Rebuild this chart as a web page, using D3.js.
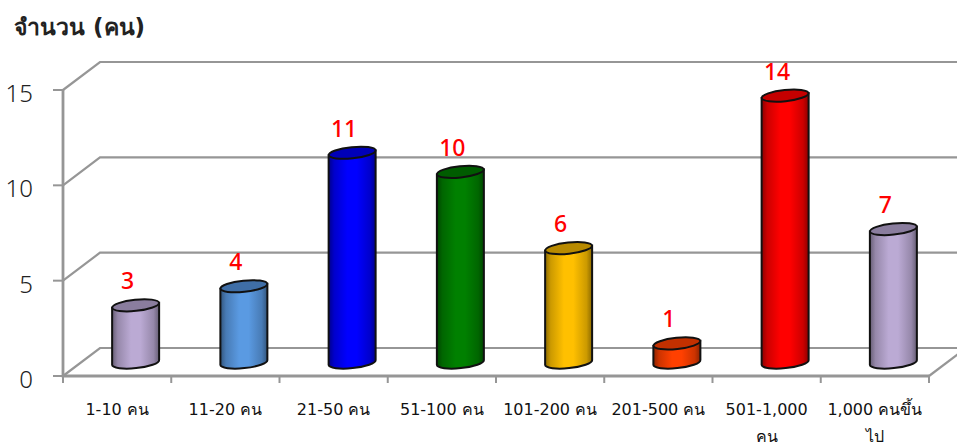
<!DOCTYPE html>
<html><head><meta charset="utf-8">
<script src="https://cdn.jsdelivr.net/npm/d3@7"></script>
<style>html,body{margin:0;padding:0;background:#fff}svg{display:block}</style>
</head><body><svg id="c" width="957" height="448"></svg>
<script>
const categories = [["1-10 คน"],["11-20 คน"],["21-50 คน"],["51-100 คน"],["101-200 คน"],["201-500 คน"],["501-1,000","คน"],["1,000 คนขึ้น","ไป"]];
const values = [3,4,11,10,6,1,14,7];
const sideColors = ["#bbaad4","#5a9ae2","#0000ff","#008000","#ffc000","#ff4000","#ff0000","#bbaad4"];
const topColors = ["#8a7d9e","#3f6ea6","#0000b8","#005c00","#b88a00","#c23000","#c40000","#8a7d9e"];
const yTicks = [0,5,10,15];

const font = "'Noto Sans', sans-serif";
const labelFont = "'DejaVu Sans', sans-serif";
const svg = d3.select("#c");
const y = d3.scaleLinear().domain([0,15]).range([376,90]);
const x = d3.scaleBand().domain(d3.range(values.length)).range([63,929]);
const depthX = 37, depthY = 28;
const grey = "#969696";

const defs = svg.append("defs");
sideColors.forEach((c,i)=>{
  const g = defs.append("linearGradient").attr("id","g"+i);
  const dark = d3.interpolateRgb(c,"#000");
  [[0,dark(.45)],[.12,dark(.2)],[.4,c],[.6,c],[.88,dark(.2)],[1,dark(.45)]].forEach(s=>
    g.append("stop").attr("offset",s[0]).attr("stop-color",s[1]));
});

// grid
const grid = svg.append("g").attr("fill","none").attr("stroke",grey);
yTicks.forEach(t=>{
  grid.append("path").attr("stroke-width",2.2).attr("d",`M${x.range()[0]},${y(t)}L${x.range()[0]+depthX},${y(t)-depthY}L957,${y(t)-depthY}`);
});
grid.append("path").attr("stroke-width",2.8).attr("d",`M63,${y(15)}V${y(0)}H${x.range()[1]}`);
grid.append("path").attr("stroke-width",2.2).attr("d",`M${x.range()[1]},${y(0)}L${x.range()[1]+depthX},${y(0)-depthY}`);
yTicks.forEach(t=>grid.append("line").attr("stroke-width",2).attr("x1",53).attr("x2",63).attr("y1",y(t)).attr("y2",y(t)));
d3.range(values.length+1).forEach(i=>{
  const px = i<values.length ? x(i) : x.range()[1];
  grid.append("line").attr("stroke-width",2).attr("x1",px).attr("x2",px).attr("y1",376).attr("y2",383);
});

// y labels
svg.append("g").selectAll("text").data(yTicks).join("text")
  .attr("x",33).attr("y",d=>y(d)+12).attr("text-anchor","end")
  .attr("font-family",font).attr("font-size",24).attr("font-weight",300).attr("fill","#222")
  .text(d=>d);

// cylinders
const rx = 23.5, ry = 5.6, tilt = -6;
const dy = rx*Math.sin(-tilt*Math.PI/180);
const cyl = svg.append("g").selectAll("g").data(values).join("g");
const cx = (d,i)=>x(i)+x.bandwidth()/2+18.5;
const base = y(0)-13.5;
const hgt = d=>y(0)-y(d);
cyl.append("path")
  .attr("fill",(d,i)=>`url(#g${i})`).attr("stroke","#111").attr("stroke-width",2)
  .attr("d",(d,i)=>{
    const c=cx(d,i), t=base-hgt(d);
    return `M${c-rx},${t+dy}L${c-rx},${base+dy}A${rx},${ry} ${tilt} 0 0 ${c+rx},${base-dy}L${c+rx},${t-dy}Z`;
  });
cyl.append("ellipse")
  .attr("rx",rx).attr("ry",ry)
  .attr("transform",(d,i)=>`translate(${cx(d,i)},${base-hgt(d)}) rotate(${tilt})`)
  .attr("fill",(d,i)=>topColors[i]).attr("stroke","#111").attr("stroke-width",2);

// data labels
svg.append("g").selectAll("text").data(values).join("text")
  .attr("x",(d,i)=>cx(d,i)-8).attr("y",d=>base-hgt(d)-16)
  .attr("text-anchor","middle").attr("font-family",font).attr("font-size",23).attr("font-weight",500).attr("fill","#ff0000")
  .text(d=>d);

// x labels
const xl = svg.append("g").selectAll("text").data(categories).join("text")
  .attr("text-anchor","middle").attr("font-family",labelFont).attr("font-size",16).attr("fill","#111");
xl.each(function(lines,i){
  d3.select(this).selectAll("tspan").data(lines).join("tspan")
    .attr("x",x(i)+x.bandwidth()/2).attr("y",(l,j)=>415+j*27).text(l=>l);
});

svg.append("text").attr("x",14).attr("y",35).attr("font-family",labelFont).attr("font-size",23).attr("font-weight",700).attr("fill","#222").text("จำนวน (คน)");
</script></body></html>
